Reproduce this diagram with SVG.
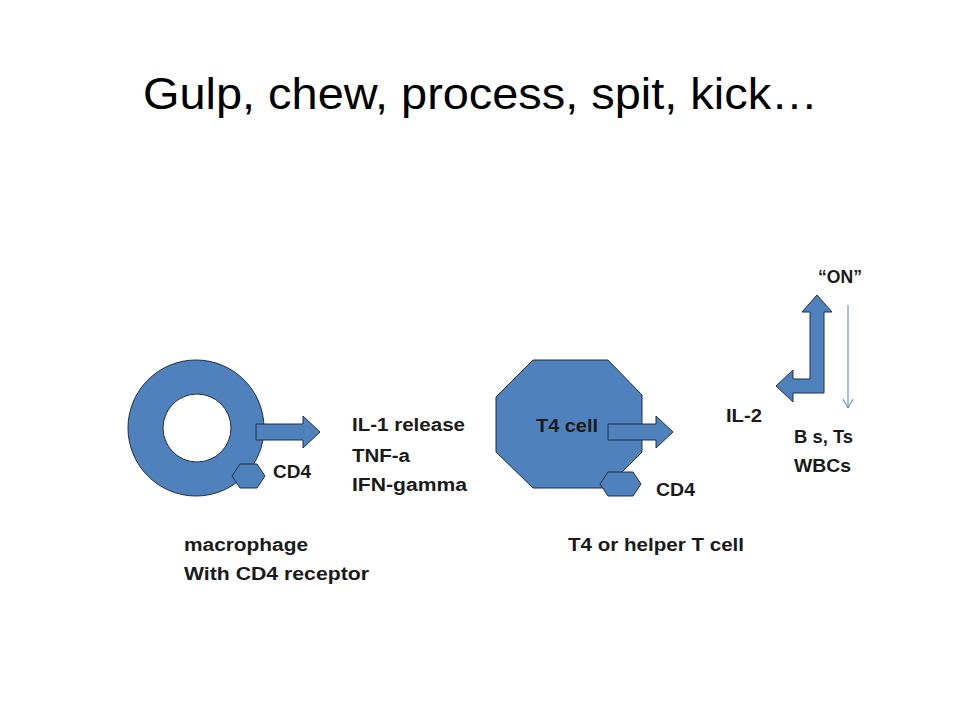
<svg xmlns="http://www.w3.org/2000/svg" width="960" height="720" viewBox="0 0 960 720">
<style>
.shape{fill:#4F81BD;stroke:#1F2F45;stroke-width:1}
.lbl{font-family:"Liberation Sans",Arial,sans-serif;font-weight:bold;font-size:18px;fill:#1a1a1a}
.title{font-family:"Liberation Sans",Arial,sans-serif;font-size:44px;fill:#000}
</style>
<defs>
<marker id="open" markerWidth="12" markerHeight="12" refX="10" refY="6" orient="auto" markerUnits="userSpaceOnUse">
<path d="M1,1 L10,6 L1,11" fill="none" stroke="#4F81BD" stroke-width="1"/>
</marker>
</defs>
<rect width="960" height="720" fill="#fff"/>
<text class="title" x="143" y="109" textLength="675" lengthAdjust="spacingAndGlyphs">Gulp, chew, process, spit, kick…</text>

<g id="macrophage">
<path class="shape" fill-rule="evenodd" d="M128,428 A68,68 0 1,0 264,428 A68,68 0 1,0 128,428 Z M163,428 A34,34 0 1,1 231,428 A34,34 0 1,1 163,428 Z"/>
</g>
<g id="cd4-macrophage">
<polygon class="shape" points="232,476 240,464 257,464 265,476 257,488 240,488"/>
</g>
<g id="t4cell">
<polygon class="shape" points="533,360 608,360 642,395 642,452 606,488 533,488 496,452 496,397"/>
</g>
<g id="cd4-t4">
<polygon class="shape" points="600,484 608,472 633,472 641,484 633,496 608,496"/>
</g>

<g id="connectors">
<polygon class="shape" points="256,424 303,424 303,416 320,432 303,448 303,440 256,440"/>
<polygon class="shape" points="608,424 656,424 656,416 673,432 656,448 656,440 608,440"/>
<polygon class="shape" stroke="#385D8A" stroke-width="2" points="810,312 802,312 817,295 832,312 824,312 824,393 793,393 793,402 776,386 793,370 793,379 810,379"/>
<line x1="848" y1="305" x2="848" y2="408" stroke="#4F81BD" stroke-width="1" marker-end="url(#open)"/>
</g>

<text class="lbl" x="273" y="478" textLength="38" lengthAdjust="spacingAndGlyphs">CD4</text>
<text class="lbl" x="352" y="431" textLength="113" lengthAdjust="spacingAndGlyphs">IL-1 release</text>
<text class="lbl" x="352" y="462" textLength="58" lengthAdjust="spacingAndGlyphs">TNF-a</text>
<text class="lbl" x="352" y="491" textLength="115" lengthAdjust="spacingAndGlyphs">IFN-gamma</text>
<text class="lbl" x="536" y="432" textLength="62" lengthAdjust="spacingAndGlyphs">T4 cell</text>
<text class="lbl" x="656" y="496" textLength="39" lengthAdjust="spacingAndGlyphs">CD4</text>
<text class="lbl" x="726" y="422" textLength="36" lengthAdjust="spacingAndGlyphs">IL-2</text>
<text class="lbl" x="794" y="443" textLength="59" lengthAdjust="spacingAndGlyphs">B s, Ts</text>
<text class="lbl" x="794" y="472" textLength="57" lengthAdjust="spacingAndGlyphs">WBCs</text>
<text class="lbl" x="818" y="283" textLength="44" lengthAdjust="spacingAndGlyphs">“ON”</text>
<text class="lbl" x="184" y="551" textLength="124" lengthAdjust="spacingAndGlyphs">macrophage</text>
<text class="lbl" x="184" y="580" textLength="185" lengthAdjust="spacingAndGlyphs">With CD4 receptor</text>
<text class="lbl" x="568" y="551" textLength="176" lengthAdjust="spacingAndGlyphs">T4 or helper T cell</text>
</svg>
